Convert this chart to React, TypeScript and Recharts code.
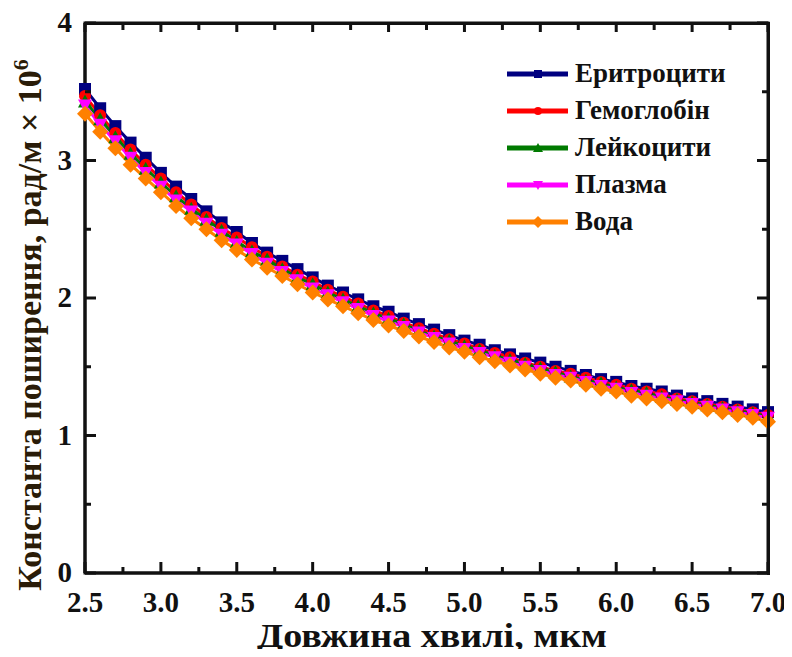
import React from 'react';
import { LineChart, Line, XAxis, YAxis, Label, ReferenceArea } from 'recharts';

// wavelength, µm
const wavelength = [
  2.5, 2.6, 2.7, 2.8, 2.9, 3.0, 3.1, 3.2, 3.3, 3.4, 3.5, 3.6, 3.7, 3.8, 3.9, 4.0,
  4.1, 4.2, 4.3, 4.4, 4.5, 4.6, 4.7, 4.8, 4.9, 5.0, 5.1, 5.2, 5.3, 5.4, 5.5, 5.6,
  5.7, 5.8, 5.9, 6.0, 6.1, 6.2, 6.3, 6.4, 6.5, 6.6, 6.7, 6.8, 6.9, 7.0,
];

const erythrocytes = [
  3.52, 3.38, 3.25, 3.13, 3.02, 2.91, 2.81, 2.72, 2.63, 2.55, 2.48, 2.40, 2.33, 2.27, 2.21, 2.15,
  2.09, 2.04, 1.99, 1.94, 1.90, 1.85, 1.81, 1.77, 1.73, 1.69, 1.66, 1.62, 1.59, 1.56, 1.53, 1.50,
  1.47, 1.44, 1.41, 1.39, 1.36, 1.34, 1.32, 1.29, 1.27, 1.25, 1.23, 1.21, 1.19, 1.17,
];
const hemoglobin = [
  3.47, 3.33, 3.20, 3.08, 2.97, 2.87, 2.77, 2.68, 2.59, 2.51, 2.44, 2.37, 2.30, 2.23, 2.17, 2.12,
  2.06, 2.01, 1.96, 1.91, 1.87, 1.82, 1.78, 1.74, 1.70, 1.67, 1.63, 1.60, 1.57, 1.53, 1.50, 1.47,
  1.45, 1.42, 1.39, 1.37, 1.34, 1.32, 1.30, 1.27, 1.25, 1.23, 1.21, 1.19, 1.17, 1.15,
];
const leukocytes = [
  3.43, 3.30, 3.17, 3.05, 2.94, 2.84, 2.74, 2.65, 2.57, 2.49, 2.41, 2.34, 2.28, 2.21, 2.15, 2.10,
  2.04, 1.99, 1.94, 1.89, 1.85, 1.81, 1.76, 1.72, 1.69, 1.65, 1.62, 1.58, 1.55, 1.52, 1.49, 1.46,
  1.43, 1.40, 1.38, 1.35, 1.33, 1.31, 1.28, 1.26, 1.24, 1.22, 1.20, 1.18, 1.16, 1.14,
];
const plasma = [
  3.40, 3.26, 3.14, 3.02, 2.91, 2.81, 2.71, 2.63, 2.54, 2.46, 2.39, 2.32, 2.25, 2.19, 2.13, 2.07,
  2.02, 1.97, 1.92, 1.87, 1.83, 1.79, 1.75, 1.71, 1.67, 1.63, 1.60, 1.57, 1.53, 1.50, 1.47, 1.44,
  1.42, 1.39, 1.36, 1.34, 1.31, 1.29, 1.27, 1.25, 1.23, 1.21, 1.19, 1.17, 1.15, 1.13,
];
const water = [
  3.34, 3.21, 3.09, 2.97, 2.87, 2.77, 2.67, 2.58, 2.50, 2.42, 2.35, 2.28, 2.22, 2.16, 2.10, 2.04,
  1.99, 1.94, 1.89, 1.84, 1.80, 1.76, 1.72, 1.68, 1.64, 1.61, 1.57, 1.54, 1.51, 1.48, 1.45, 1.42,
  1.40, 1.37, 1.34, 1.32, 1.29, 1.27, 1.25, 1.23, 1.21, 1.19, 1.17, 1.15, 1.13, 1.10,
];

const xTicks = [2.5, 2.75, 3.0, 3.25, 3.5, 3.75, 4.0, 4.25, 4.5, 4.75, 5.0, 5.25, 5.5, 5.75, 6.0, 6.25, 6.5, 6.75, 7.0];
const xLabels = ['2.5', '3.0', '3.5', '4.0', '4.5', '5.0', '5.5', '6.0', '6.5', '7.0'];
const yTicks = [0, 0.5, 1, 1.5, 2, 2.5, 3, 3.5, 4];
const yLabels = ['0', '1', '2', '3', '4'];

const series = [
  { key: 'erythrocytes', name: 'Еритроцити', color: '#000080', shape: 'square' },
  { key: 'hemoglobin', name: 'Гемоглобін', color: '#ff0000', shape: 'circle' },
  { key: 'leukocytes', name: 'Лейкоцити', color: '#007a00', shape: 'up' },
  { key: 'plasma', name: 'Плазма', color: '#ff00ff', shape: 'down' },
  { key: 'water', name: 'Вода', color: '#ff8000', shape: 'diamond' },
];

const data = wavelength.map((w, i) => ({
  w,
  erythrocytes: erythrocytes[i],
  hemoglobin: hemoglobin[i],
  leukocytes: leukocytes[i],
  plasma: plasma[i],
  water: water[i],
}));

const FONT = '"Liberation Serif", "Times New Roman", serif';
const INK = '#111';

const W = 792;
const H = 657;
const MARGIN = { top: 23, right: 24, bottom: 0, left: 0 };
const Y_AXIS_W = 85;
const X_AXIS_H = 84;
const X_DOMAIN = [2.5, 7];
const Y_DOMAIN = [0, 4];
const PLOT_L = MARGIN.left + Y_AXIS_W;
const PLOT_T = MARGIN.top;
const PLOT_W = W - MARGIN.left - MARGIN.right - Y_AXIS_W;
const PLOT_H = H - MARGIN.top - MARGIN.bottom - X_AXIS_H;

function Marker({ cx, cy, shape, color, r = 6 }: any) {
  if (cx == null || cy == null) return null;
  if (shape === 'square')
    return <rect x={cx - r} y={cy - r} width={2 * r} height={2 * r} fill={color} />;
  if (shape === 'circle') return <circle cx={cx} cy={cy} r={r} fill={color} />;
  if (shape === 'up')
    return <polygon points={`${cx},${cy - r - 1} ${cx + r + 1},${cy + r} ${cx - r - 1},${cy + r}`} fill={color} />;
  if (shape === 'down')
    return <polygon points={`${cx},${cy + r + 1} ${cx + r + 1},${cy - r} ${cx - r - 1},${cy - r}`} fill={color} />;
  return <polygon points={`${cx},${cy - r - 2} ${cx + r + 2},${cy} ${cx},${cy + r + 2} ${cx - r - 2},${cy}`} fill={color} />;
}

const isMajorX = (v: number) => Math.abs(v * 2 - Math.round(v * 2)) < 1e-6;
const isMajorY = (v: number) => Number.isInteger(v);

// bottom tick, plus the mirrored inward tick on the top edge
function BottomTick({ x, y, payload }: any) {
  const major = isMajorX(payload.value);
  const label = xLabels.find((l) => Math.abs(Number(l) - payload.value) < 1e-6);
  const top = y - PLOT_H;
  return (
    <g>
      <line x1={x} x2={x} y1={y} y2={y - (major ? 11 : 6)} stroke={INK} strokeWidth={3} />
      <rect x={x - 1.5} y={top} width={3} height={major ? 9 : 7} fill={INK} />
      {major && label && (
        <text x={x} y={y + 39} textAnchor="middle" fontFamily={FONT} fontWeight="bold" fontSize={29} fill={INK}>
          {label}
        </text>
      )}
    </g>
  );
}

// left tick, plus the mirrored inward tick on the right edge
function LeftTick({ x, y, payload }: any) {
  const major = isMajorY(payload.value);
  const right = x + PLOT_W;
  const len = major ? 11 : 6;
  return (
    <g>
      <line x1={x} x2={x + len} y1={y} y2={y} stroke={INK} strokeWidth={3} />
      <rect x={right - len} y={y - 1.5} width={len} height={3} fill={INK} />
      {major && (
        <text x={x - 13} y={y + 9} textAnchor="end" fontFamily={FONT} fontWeight="bold" fontSize={29} fill={INK}>
          {yLabels[payload.value]}
        </text>
      )}
    </g>
  );
}

function LegendBox() {
  return (
    <div
      style={{
        position: 'absolute',
        left: 505,
        top: 55,
        fontFamily: FONT,
        fontWeight: 'bold',
        fontSize: 27,
        color: INK,
      }}
    >
      {series.map((s) => (
        <div key={s.key} style={{ display: 'flex', alignItems: 'center', height: 37 }}>
          <svg width={70} height={20} style={{ display: 'block' }}>
            <line x1={2} x2={63} y1={10} y2={10} stroke={s.color} strokeWidth={5} />
            <Marker cx={33} cy={10} shape={s.shape} color={s.color} r={4} />
          </svg>
          <span style={{ lineHeight: '37px' }}>{s.name}</span>
        </div>
      ))}
    </div>
  );
}

export default function App() {
  return (
    <div style={{ position: 'relative', margin: -8, width: W, height: H, background: '#fff' }}>
      <LineChart width={W} height={H} data={data} margin={MARGIN}>
        {/* box frame around the plot area */}
        <ReferenceArea
          x1={X_DOMAIN[0]}
          x2={X_DOMAIN[1]}
          y1={Y_DOMAIN[0]}
          y2={Y_DOMAIN[1]}
          fill="none"
          fillOpacity={0}
          stroke={INK}
          strokeWidth={3}
          strokeOpacity={1}
          ifOverflow="visible"
        />
        <XAxis
          dataKey="w"
          type="number"
          domain={X_DOMAIN}
          ticks={xTicks}
          interval={0}
          height={X_AXIS_H}
          tickSize={0}
          tickMargin={0}
          tickLine={false}
          tick={<BottomTick />}
          axisLine={{ stroke: INK, strokeWidth: 3 }}
        >
          <Label
            content={() => (
              <text
                x={432}
                y={647}
                textAnchor="middle"
                fontFamily={FONT}
                fontWeight="bold"
                fontSize={34}
                textLength={350}
                lengthAdjust="spacingAndGlyphs"
                fill={INK}
              >
                Довжина хвилі, мкм
              </text>
            )}
          />
        </XAxis>
        <YAxis
          type="number"
          domain={Y_DOMAIN}
          ticks={yTicks}
          interval={0}
          width={Y_AXIS_W}
          tickSize={0}
          tickMargin={0}
          tickLine={false}
          tick={<LeftTick />}
          axisLine={{ stroke: INK, strokeWidth: 3 }}
        >
          <Label
            content={() => (
              <text
                x={0}
                y={0}
                transform="translate(41 325) rotate(-90)"
                textAnchor="middle"
                fontFamily={FONT}
                fontWeight="bold"
                fontSize={34}
                fill="#2a1c08"
              >
                Константа поширення, рад/м × 10
                <tspan dy={-13} fontSize={22}>6</tspan>
              </text>
            )}
          />
        </YAxis>
        {series.map((s) => (
          <Line
            key={s.key}
            dataKey={s.key}
            name={s.name}
            stroke={s.color}
            strokeWidth={3}
            isAnimationActive={false}
            dot={(p: any) => <Marker key={`${s.key}-${p.index}`} cx={p.cx} cy={p.cy} shape={s.shape} color={s.color} />}
            activeDot={false}
          />
        ))}
      </LineChart>
      <div
        style={{
          position: 'absolute',
          left: PLOT_L - 1.5,
          top: PLOT_T - 1.5,
          width: PLOT_W,
          height: PLOT_H,
          borderTop: `3px solid ${INK}`,
          borderRight: `3px solid ${INK}`,
          pointerEvents: 'none',
        }}
      />
      <LegendBox />
    </div>
  );
}
